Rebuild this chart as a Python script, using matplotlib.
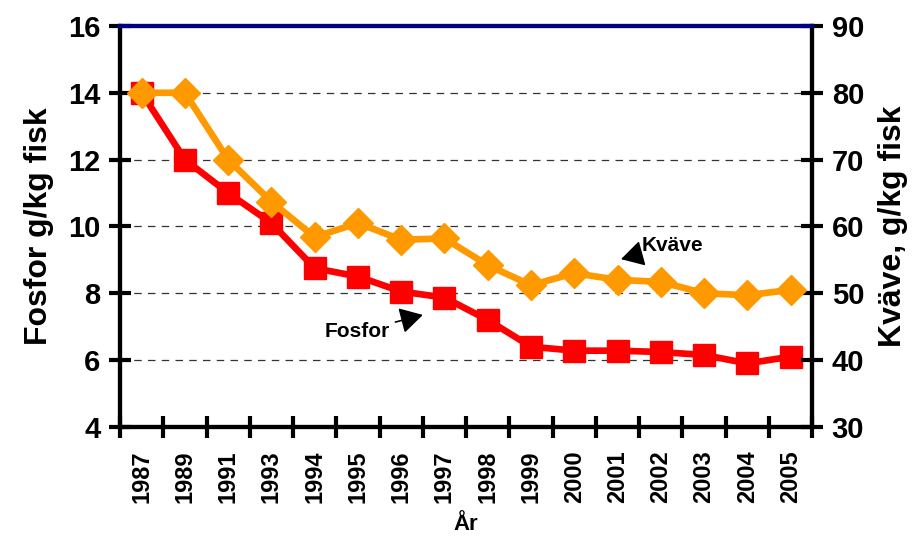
import matplotlib
matplotlib.use('Agg')
import matplotlib.pyplot as plt
import numpy as np

plt.rcParams['font.family'] = ['Liberation Sans', 'DejaVu Sans']
plt.rcParams['font.weight'] = 'bold'

years = ['1987', '1989', '1991', '1993', '1994', '1995', '1996', '1997',
         '1998', '1999', '2000', '2001', '2002', '2003', '2004', '2005']
fosfor = [14.0, 12.0, 11.0, 10.1, 8.75, 8.5, 8.05, 7.87, 7.2, 6.4, 6.28,
          6.28, 6.24, 6.15, 5.9, 6.1]
kvave = [80.0, 80.0, 70.0, 63.7, 58.4, 60.5, 58.0, 58.2, 54.2, 51.2, 53.0,
         52.0, 51.7, 50.0, 49.7, 50.5]

x = np.arange(len(years))

fig = plt.figure(figsize=(9.23, 5.41), dpi=100)
ax = fig.add_axes([0.130, 0.211, 0.750, 0.741])
ax2 = ax.twinx()

ax.set_xlim(-0.5, len(years) - 0.5)
ax.set_ylim(4, 16)
ax2.set_ylim(30, 90)

# dashed grid
for g in [6, 8, 10, 12, 14]:
    ax.axhline(g, color='black', lw=0.9, ls=(0, (6, 5)), alpha=0.8, zorder=1)

ax.plot(x, fosfor, color='#FF0000', lw=4.8, marker='s', ms=16, zorder=3)
ax2.plot(x, kvave, color='#FF9900', lw=4.8, marker='D', ms=15, zorder=3)

for a in (ax, ax2):
    for s in a.spines.values():
        s.set_linewidth(3)
    a.spines['top'].set_color('#000080')

ax.set_yticks(np.arange(4, 17, 2))
ax2.set_yticks(np.arange(30, 91, 10))
for a in (ax, ax2):
    a.tick_params(axis='y', direction='inout', length=16, width=3, labelsize=21, pad=6)

ax.set_xticks(x)
ax.set_xticklabels(years, rotation=90, fontsize=17, fontweight='bold')
ax.tick_params(axis='x', which='major', length=0, pad=17)
ax.set_xticks(np.arange(-0.5, len(years), 1.0), minor=True)
ax.tick_params(axis='x', which='minor', direction='inout', length=16, width=3)

for lbl in ax.get_yticklabels() + ax2.get_yticklabels():
    lbl.set_fontweight('bold')

ax.set_ylabel('Fosfor g/kg fisk', fontsize=23, fontweight='bold', labelpad=10)
ax2.set_ylabel('Kväve, g/kg fisk', fontsize=23, fontweight='bold', labelpad=10)
ax.set_xlabel('År', fontsize=16, fontweight='bold', labelpad=8)

arrow = dict(arrowstyle='-|>,head_length=0.7,head_width=0.4', color='black',
             lw=1.2, mutation_scale=20, shrinkA=2, shrinkB=0)
ax2.annotate('Fosfor', xy=(6.5, 7.35), xytext=(5.74, 6.84), xycoords=ax.transData,
             textcoords=ax.transData, ha='right', va='center', fontsize=15,
             fontweight='bold', arrowprops=arrow)
ax2.annotate('Kväve', xy=(11.08, 9.02), xytext=(11.55, 9.44), xycoords=ax.transData,
             textcoords=ax.transData, ha='left', va='center', fontsize=15,
             fontweight='bold', arrowprops=arrow)

fig.savefig('out.png', dpi=100)
